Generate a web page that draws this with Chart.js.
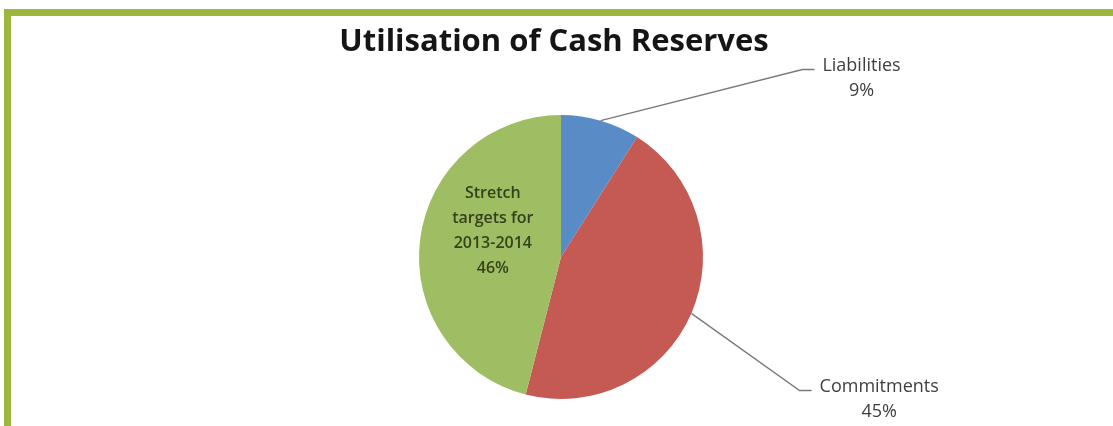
<!DOCTYPE html>
<html>
<head>
<meta charset="utf-8">
<title>Utilisation of Cash Reserves</title>
<script src="https://cdn.jsdelivr.net/npm/chart.js@4/dist/chart.umd.min.js"></script>
<style>
  html, body { margin:0; padding:0; background:#fff; }
  #wrap {
    position:relative; width:1113px; height:426px; overflow:hidden; background:#fff;
  }
  /* olive frame round the panel (top + left only, rest is cut off) */
  #frame {
    position:absolute; left:4px; top:9px; right:0; bottom:-20px;
    border-left:7px solid #9db63d; border-top:7px solid #9db63d;
    pointer-events:none;
  }
  canvas { position:absolute; left:0; top:0; }
</style>
</head>
<body>
<div id="wrap">
  <canvas id="pie" width="1113" height="426"></canvas>
  <div id="frame"></div>
</div>
<script>
// ── Data ─────────────────────────────────────────────────────
const TITLE    = 'Utilisation of Cash Reserves';
const labels   = ['Liabilities', 'Commitments', 'Stretch targets for 2013-2014'];
const shares   = [9, 45, 46];
const colours  = ['#598bc6', '#c55a55', '#9fbd62'];
// how each label is broken over lines
const labelLines = [['Liabilities'], ['Commitments'], ['Stretch', 'targets for', '2013-2014']];

const FONT = '"Open Sans", Lato, sans-serif';

// ── Labels + leader lines ────────────────────────────────────
const sliceLabels = {
  id: 'sliceLabels',
  afterDatasetsDraw(chart) {
    const ctx  = chart.ctx;
    const arcs = chart.getDatasetMeta(0).data;

    // title
    ctx.save();
    ctx.fillStyle = '#151515';
    ctx.font = 'bold 31px ' + FONT;
    ctx.textAlign = 'center'; ctx.textBaseline = 'middle';
    ctx.fillText(TITLE, 554, 42);
    ctx.restore();

    arcs.forEach((arc, i) => {
      const { x, y, startAngle, endAngle, outerRadius } = arc.getProps(['x','y','startAngle','endAngle','outerRadius'], true);
      const mid = (startAngle + endAngle) / 2;
      const lines = labelLines[i].concat([shares[i] + '%']);
      ctx.save();
      ctx.textAlign = 'center'; ctx.textBaseline = 'middle';

      if (i === 2) {
        // inside the green slice
        ctx.font = '600 16px ' + FONT;
        ctx.fillStyle = '#33421b';
        const cx = x - outerRadius * 0.48, cy = y - outerRadius * 0.186;
        const lh = 25;
        const top = cy - (lines.length - 1) * lh / 2;
        lines.forEach((t, k) => ctx.fillText(t, cx, top + k * lh));
        ctx.restore();
        return;
      }

      // outside label with a bent leader line
      const ex = x + Math.cos(mid) * outerRadius;
      const ey = y + Math.sin(mid) * outerRadius;
      const up = Math.sin(mid) < 0;
      const kx = x + outerRadius * (up ? 1.7 : 1.68);
      const ky = up ? y - outerRadius * 1.32 : y + outerRadius * 0.94;
      ctx.strokeStyle = '#7a7a7a'; ctx.lineWidth = 1.4;
      ctx.beginPath();
      ctx.moveTo(ex, ey); ctx.lineTo(kx, ky); ctx.lineTo(kx + 12, ky);
      ctx.stroke();

      ctx.font = '18px ' + FONT;
      ctx.fillStyle = '#404040';
      const w = ctx.measureText(lines[0]).width;
      const cx = kx + 20 + w / 2;
      const lh = 25;
      const top = ky - 4;
      lines.forEach((t, k) => ctx.fillText(t, cx, top + k * lh));
      ctx.restore();
    });
  }
};

// ── Chart ────────────────────────────────────────────────────
new Chart(document.getElementById('pie').getContext('2d'), {
  type: 'pie',
  data: {
    labels,
    datasets: [{ data: shares, backgroundColor: colours, borderWidth: 0 }]
  },
  options: {
    responsive: false,
    animation: false,
    layout: { padding: { left: 419, right: 410, top: 115, bottom: 27 } },
    plugins: {
      legend: { display: false },
      tooltip: { enabled: false },
      title: { display: false }
    }
  },
  plugins: [sliceLabels]
});
</script>
</body>
</html>
